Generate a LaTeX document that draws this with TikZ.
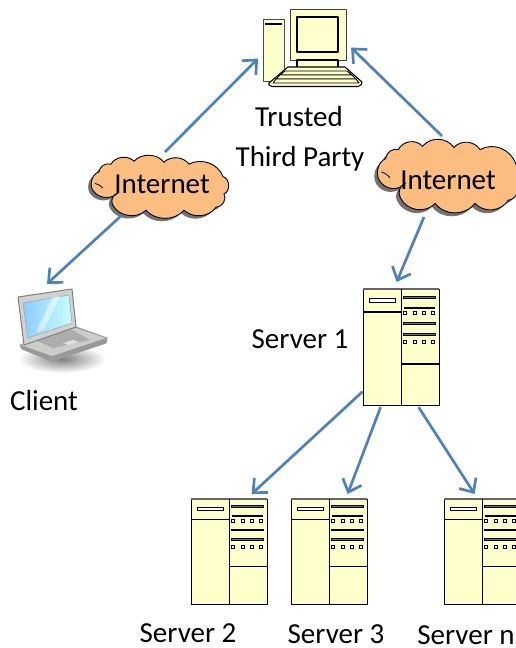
\documentclass[tikz,border=0pt]{standalone}
\usepackage{fontspec}
\setmainfont{Carlito}
\usetikzlibrary{arrows.meta,calc,shadings}
\definecolor{srvfill}{HTML}{FFFFCC}
\definecolor{cloudfill}{HTML}{FBBE80}
\definecolor{conn}{HTML}{4F81BD}
\tikzset{
  x=1pt,y=-1pt,
  connector/.style={draw=conn,line width=2.7pt,-{Straight Barb[length=11pt,width=20pt,line width=2.7pt]}},
  label/.style={font=\fontsize{29}{31}\selectfont,text=black,inner sep=0pt},
  cloudtext/.style={font=\fontsize{29}{31}\selectfont,text=black,inner sep=0pt},
  srvbox/.style={draw=black,line width=1.2pt,fill=srvfill,inner sep=0pt,minimum width=76pt,anchor=north west},
  srvline/.style={draw=black,line width=1.2pt},
  bar/.style={draw=black,fill=black!55,line width=.7pt},
  dot/.style={draw=black,fill=srvfill,line width=.8pt},
  pcpart/.style={draw=black,line width=1.1pt,fill=srvfill,line join=round},
}
\newcommand{\cloudpath}{%
  (-66,-20) to[bend left=50] (-54,-28)
  to[bend left=55] (-31,-31)
  to[bend left=50] (-1,-30)
  to[bend left=50] (24,-28)
  to[bend left=50] (58,-15)
  to[bend left=75] (59,3)
  to[bend left=60] (51,17)
  to[bend left=50] (19,20)
  to[bend left=50] (-19,20)
  to[bend left=55] (-52,15)
  to[bend left=55] (-47,2)
  to[bend left=45] (-70,2)
  to[bend left=60] cycle}
\newcommand{\cloudat}[7]{% name, x, y, text, xscale, yscale, text position
  \begin{scope}[shift={(#2,#3)},xscale=#5,yscale=#6]
    \fill[black!55] [shift={(-3,3)}] \cloudpath;
    \filldraw[fill=cloudfill,draw=black,line width=.9pt] \cloudpath;
    \draw[black,line width=.8pt] (-70,-8) to[bend left=15] (-62,-3);
  \end{scope}
  \node[cloudtext] (#1) at (#7) {#4};
}
\newcommand{\serverat}[5]{% name, x, y, height, ys
  \node[srvbox,minimum height=#4pt] (#1) at (#2,#3) {};
  \begin{scope}[shift={(#2,#3)},yscale=#5]
    \draw[black!60,line width=1.4pt] (0,0) -- (76,0);
    \draw[srvline] (38.5,0) -- (38.5,116);
    \draw[srvline] (0,23) -- (38.5,23);
    \draw[srvline] (38.5,75) -- (76,75);
    \draw[draw=black,fill=white,line width=1pt] (6,9) rectangle (32,13);
    \foreach \yy in {7,33,44}{\draw[bar] (40.5,\yy) rectangle (72,\yy+2);}
    \fill[black] (40.5,17.5) rectangle (72,19.5);
    \foreach \yy in {24,53}{\foreach \xx in {42,51.5,61,70}{\draw[dot] (\xx-1.4,\yy-1.4) rectangle (\xx+1.4,\yy+1.4);}}
  \end{scope}
}
\begin{document}
\begin{tikzpicture}
\useasboundingbox (0,0) rectangle (516,648);
\clip (0,0) rectangle (516,648);

% --- computer
\node[pcpart,draw=black!70,minimum width=21pt,minimum height=62pt,inner sep=0pt,anchor=north west] (tower) at (263,19) {};
\fill[black] (265,23) rectangle (282,25);
\node[pcpart,draw=black!75,minimum width=56pt,minimum height=51pt,inner sep=0pt,anchor=north west] (pc) at (290,9) {};
\draw[pcpart,fill=srvfill] (297,17) rectangle (338,52);
\draw[pcpart] (297,60) rectangle (338,68);
\draw[pcpart] (288,67) -- (345,67) -- (362,82) -- (361,85) -- (358,86.5) -- (272,86.5) -- (269,85) -- (269,83) -- cycle;
\draw[pcpart,line width=.9pt] (285,71) -- (347,71) -- (352,75) -- (280,75) -- cycle;
\draw[pcpart,line width=.9pt] (280,75) -- (352,75) -- (356,79) -- (276,79) -- cycle;
\draw[pcpart,line width=.9pt] (276,79) -- (356,79) -- (359,83) -- (273,83) -- cycle;

\node[label] (tp1) at (299,117) {Trusted};
\node[label] (tp2) at (300,159) {Third Party};

% --- clouds
\cloudat{inet1}{165}{191}{Internet}{1}{0.96}{162,184}
\cloudat{inet2}{455}{181}{Internet}{1.05}{1.12}{448,180}

% --- laptop
\shade[inner color=black!50,outer color=white] (62,359) ellipse [x radius=44,y radius=14];
\fill[black!40,line join=round,draw=black!40,line width=1pt]
  (20,345) -- (76,327) -- (107,338) -- (106,343) -- (52,361) -- (22,349) -- cycle;
\fill[black!20,line join=round] (21,345) -- (76,328) -- (106,338) -- (52,356) -- cycle;
\fill[black!32] (35,340) -- (72,330) -- (90,340) -- (53,348) -- cycle;
\fill[black!12] (63,343) -- (73,340) -- (79,342) -- (69,345) -- cycle;
\filldraw[fill=black!18,draw=black!50,line width=1pt,line join=round] (18,297) -- (72,289) -- (76,327) -- (24,345) -- cycle;
\node[inner sep=0pt,minimum size=0pt] (laptop) at (60,325) {};
\shade[left color=cyan!55!blue!45,right color=cyan!22!white,draw=black!35,line width=.6pt] (23,303) -- (69,295) -- (72,323) -- (28,338) -- cycle;
\fill[white,opacity=.5] (53,297) -- (60,296) -- (44,330) -- (36,332) -- cycle;
\node[label] (client) at (44,401) {Client};

% --- servers
\serverat{srv1}{363}{289}{116}{1}
\node[label] (lab1) at (300,339) {Server 1};
\serverat{srv2}{191}{499}{105}{0.905}
\serverat{srv3}{291}{499}{105}{0.905}
\serverat{srvn}{444}{499}{105}{0.905}
\node[label] (lab2) at (188,633) {Server 2};
\node[label] (lab3) at (336,634) {Server 3};
\node[label] (labn) at (466,635) {Server n};

% --- connectors
\draw[connector] ([shift={(3,-32)}]inet1.center) -- ([shift={(-5,8)}]tower.west);
\draw[connector] ([shift={(-40,31)}]inet1.center) -- ([shift={(-13,-41)}]laptop.north);
\draw[connector] ([shift={(-6,-44)}]inet2.center) -- ([shift={(4,12.5)}]pc.east);
\draw[connector] ([shift={(-24,37)}]inet2.center) -- ([shift={(-5,-7)}]srv1.north);
\draw[connector] ([shift={(-39,44)}]srv1.center) -- ([shift={(22,-5)}]srv2.north);
\draw[connector] ([shift={(-21,1)}]srv1.south) -- ([shift={(18,-5)}]srv3.north);
\draw[connector] ([shift={(17,1)}]srv1.south) -- ([shift={(-8,-5)}]srvn.north);
\end{tikzpicture}
\end{document}
